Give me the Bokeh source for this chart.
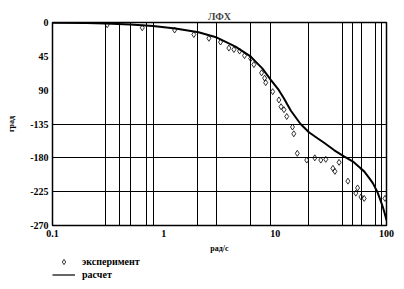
from bokeh.plotting import figure
from bokeh.layouts import column
from bokeh.models import FixedTicker, Legend, LegendItem
from bokeh.embed import file_html
from bokeh.resources import INLINE

# расчет (computed curve)
calc_f = [0.1, 0.2, 0.3, 0.5, 0.8, 1.27, 2.05, 3.0, 4.4, 6.0, 7.66, 9.1, 10.8, 12.0, 13.8,
          16.9, 20.1, 24.0, 27.5, 34.0, 41.5, 50.0, 58.5, 63.0, 70.0, 75.6, 82.6, 88.0,
          92.5, 96.0, 100.0]
calc_ph = [-0.3, -0.8, -1.3, -2.5, -4.5, -8, -13, -20, -32, -45, -61, -76, -90, -101, -117,
           -135, -146, -154, -160, -170, -178, -185, -194, -198, -207, -214, -225, -236,
           -245, -253, -263]

# эксперимент (measured points)
exp_f = [0.31, 0.64, 1.25, 1.86, 2.54, 3.23, 3.84, 4.26, 4.79, 5.31, 6.03, 6.44, 7.55, 8.04,
         8.22, 9.5, 10.8, 11.3, 12.0, 12.7, 14.3, 14.7, 15.8, 19.2, 22.7, 25.7, 28.5, 37.5,
         33.0, 34.4, 45.0, 55.0, 53.0, 59.0, 63.0, 97.0]
exp_ph = [-3, -7, -10, -16, -21, -26, -34, -36, -38, -44, -48, -56, -67, -74,
          -80, -92, -103, -112, -116, -125, -139, -148, -174, -183, -180, -183, -182, -186,
          -194, -198, -211, -220, -227, -232, -234, -234]

x_ticks = [0.1, 1, 10, 100]
x_tick_labels = ["0.1", "1", "10", "100"]
y_ticks = [0, -45, -90, -135, -180, -225, -270]
y_tick_labels = ["0", "45", "90", "-135", "-180", "-225", "-270"]
x_grid = [0.3, 0.4, 0.5, 0.7, 0.8, 2, 3, 6, 9, 20, 40, 50, 60, 80, 90]
y_grid = [-135, -180, -225]
legend_labels = ["эксперимент", "расчет"]

FONT = "Liberation Serif"

p = figure(width=404, height=255, x_axis_type="log", x_range=(0.1, 100), y_range=(-270, 0),
           output_backend="svg", toolbar_location=None, title="ЛФХ",
           min_border_left=52, min_border_right=18, min_border_top=22, min_border_bottom=30)

p.title.align = "center"
p.title.text_font = FONT
p.title.text_font_size = "10px"
p.title.text_font_style = "bold"
p.title.offset = 4
p.title.standoff = 2

p.background_fill_color = "white"
p.border_fill_color = "white"
p.outline_line_color = "black"
p.outline_line_width = 1.5

p.xaxis.ticker = FixedTicker(ticks=x_ticks)
p.xaxis.major_label_overrides = {t: l for t, l in zip(x_ticks, x_tick_labels)}
p.yaxis.ticker = FixedTicker(ticks=y_ticks)
p.yaxis.major_label_overrides = {t: l for t, l in zip(y_ticks, y_tick_labels)}

for ax in (p.xaxis, p.yaxis):
    ax.axis_line_color = None
    ax.major_tick_line_color = None
    ax.minor_tick_line_color = None
    ax.major_tick_out = 0
    ax.major_tick_in = 0
    ax.major_label_text_font = FONT
    ax.major_label_text_font_size = "10px"
    ax.major_label_text_font_style = "bold"
    ax.major_label_text_color = "black"
    ax.axis_label_text_font = FONT
    ax.axis_label_text_font_size = "8px"
    ax.axis_label_text_font_style = "bold"
    ax.axis_label_text_color = "black"

p.xaxis.axis_label = "рад/с"
p.yaxis.axis_label = "град"
p.xaxis.major_label_standoff = 4
p.yaxis.major_label_standoff = 4
p.xaxis.axis_label_standoff = 4
p.yaxis.axis_label_standoff = 11

p.xgrid.ticker = FixedTicker(ticks=x_grid)
p.ygrid.ticker = FixedTicker(ticks=y_grid)
for g in (p.xgrid, p.ygrid):
    g.grid_line_color = "black"
    g.grid_line_width = 1
    g.grid_line_alpha = 1.0

p.scatter(exp_f, exp_ph, marker="diamond", size=6, fill_color=None,
          line_color="black", line_width=0.8)
p.line(calc_f, calc_ph, line_color="black", line_width=2)

# legend strip below the chart (series drawn off-range so only the legend shows)
p2 = figure(width=404, height=34, output_backend="svg", toolbar_location=None,
            x_axis_location=None, y_axis_location=None, min_border=0,
            x_range=(1000, 2000), y_range=(1000, 2000))
p2.outline_line_color = None
p2.xgrid.visible = False
p2.ygrid.visible = False
p2.background_fill_color = "white"
p2.border_fill_color = "white"
le = p2.scatter(exp_f, exp_ph, marker="diamond", size=6, fill_color=None,
                line_color="black", line_width=0.8)
ll = p2.line(calc_f, calc_ph, line_color="black", line_width=1.2)

legend = Legend(items=[LegendItem(label=legend_labels[0], renderers=[le]),
                       LegendItem(label=legend_labels[1], renderers=[ll])],
                location=(0, 8), orientation="vertical",
                border_line_color=None, background_fill_alpha=0,
                padding=0, margin=0, spacing=0,
                label_height=13, glyph_height=13, glyph_width=23, label_standoff=7,
                label_text_font=FONT, label_text_font_size="10px",
                label_text_font_style="bold", label_text_color="black")
p2.add_layout(legend, "center")

open("out.html", "w").write(file_html(column(p, p2, spacing=0), INLINE))
